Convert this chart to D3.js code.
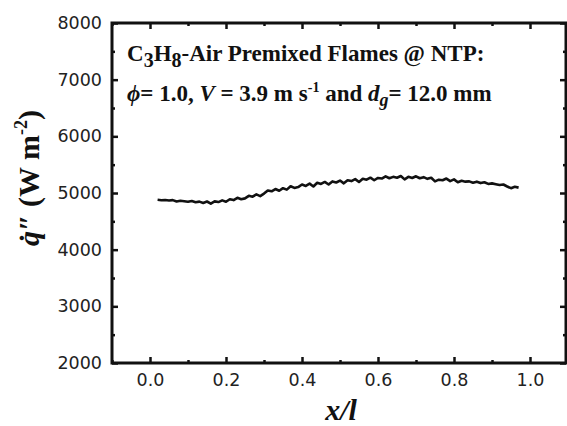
<!DOCTYPE html>
<html>
<head>
<meta charset="utf-8">
<script src="https://d3js.org/d3.v7.min.js"></script>
<style>
  body { margin: 0; background: #fff; }
  .tick text { font-family: "DejaVu Sans", sans-serif; font-size: 17.5px; fill: #222; }
  .serif { font-family: "Liberation Serif", "Times New Roman", serif; font-weight: bold; fill: #111; }
</style>
</head>
<body>
<div id="chart"></div>
<script>
// heat flux along the wall
let xPos = [0.02,0.03,0.04,0.05,0.06,0.07,0.08,0.09,0.10,0.11,0.12,0.13,0.14,0.15,0.16,0.17,0.18,0.19,
  0.20,0.21,0.22,0.23,0.24,0.25,0.26,0.27,0.28,0.29,0.30,0.31,0.32,0.33,0.34,0.35,0.36,0.37,0.38,0.39,
  0.40,0.41,0.42,0.43,0.44,0.45,0.46,0.47,0.48,0.49,0.50,0.51,0.52,0.53,0.54,0.55,0.56,0.57,0.58,0.59,
  0.60,0.61,0.62,0.63,0.64,0.65,0.66,0.67,0.68,0.69,0.70,0.71,0.72,0.73,0.74,0.75,0.76,0.77,0.78,0.79,
  0.80,0.81,0.82,0.83,0.84,0.85,0.86,0.87,0.88,0.89,0.90,0.91,0.92,0.93,0.94,0.95,0.96,0.97];
let heatFlux = [4880,4872,4876,4868,4874,4850,4862,4855,4845,4860,4838,4848,4825,4850,4812,4852,4840,4870,
  4845,4890,4875,4915,4890,4905,4950,4935,4975,4945,4990,5045,5030,5070,5040,5085,5060,5120,5090,5105,
  5150,5125,5165,5115,5180,5160,5195,5150,5205,5185,5220,5170,5225,5210,5245,5195,5250,5235,5270,5225,
  5265,5255,5295,5260,5285,5270,5300,5240,5285,5265,5295,5260,5280,5250,5270,5205,5235,5225,5255,5210,
  5240,5190,5215,5200,5205,5180,5200,5175,5190,5160,5170,5155,5140,5150,5115,5085,5110,5095];

let xMajor = [0, 0.2, 0.4, 0.6, 0.8, 1.0];
let xMinor = [-0.1, 0.1, 0.3, 0.5, 0.7, 0.9, 1.1];
let yMajor = [2000, 3000, 4000, 5000, 6000, 7000, 8000];
let yMinor = [2500, 3500, 4500, 5500, 6500, 7500];

const W = 567, H = 426;
const box = {l: 112, r: 566, t: 23, b: 363};

let svg = d3.select("#chart").append("svg")
    .attr("width", W)
    .attr("height", H);

let x = d3.scaleLinear().domain([-0.1, 1.1]).range([box.l, 568]);
let y = d3.scaleLinear().domain([2000, 8000]).range([box.b, box.t]);

const styleAxis = (g, width) => {
    g.select(".domain").remove();
    g.selectAll(".tick line").attr("stroke", "#111").attr("stroke-width", width);
};

// ticks all point into the plot
svg.append("g").attr("transform", `translate(0,${box.b})`)
    .call(d3.axisBottom(x).tickValues(xMajor).tickSize(-6).tickPadding(11).tickFormat(d3.format(".1f")))
    .call(g => styleAxis(g, 2.5));
svg.append("g").attr("transform", `translate(0,${box.b})`)
    .call(d3.axisBottom(x).tickValues(xMinor).tickSize(-3).tickFormat(""))
    .call(g => styleAxis(g, 2.5));
svg.append("g").attr("transform", `translate(0,${box.t})`)
    .call(d3.axisTop(x).tickValues(xMajor).tickSize(-6).tickFormat(""))
    .call(g => styleAxis(g, 2.5));
svg.append("g").attr("transform", `translate(0,${box.t})`)
    .call(d3.axisTop(x).tickValues(xMinor).tickSize(-3).tickFormat(""))
    .call(g => styleAxis(g, 2.5));

svg.append("g").attr("transform", `translate(${box.l},0)`)
    .call(d3.axisLeft(y).tickValues(yMajor).tickSize(-6).tickPadding(10).tickFormat(d3.format("d")))
    .call(g => styleAxis(g, 2.5));
svg.append("g").attr("transform", `translate(${box.l},0)`)
    .call(d3.axisLeft(y).tickValues(yMinor).tickSize(-3).tickFormat(""))
    .call(g => styleAxis(g, 2.5));
svg.append("g").attr("transform", `translate(${box.r},0)`)
    .call(d3.axisRight(y).tickValues(yMajor).tickSize(-6).tickFormat(""))
    .call(g => styleAxis(g, 2.5));
svg.append("g").attr("transform", `translate(${box.r},0)`)
    .call(d3.axisRight(y).tickValues(yMinor).tickSize(-3).tickFormat(""))
    .call(g => styleAxis(g, 2.5));

// frame
svg.append("rect")
    .attr("x", box.l).attr("y", box.t)
    .attr("width", box.r - box.l).attr("height", box.b - box.t)
    .attr("fill", "none").attr("stroke", "#111").attr("stroke-width", 3);

// data line
let pts = xPos.map((d, i) => [d, heatFlux[i]]);
svg.append("path")
    .datum(pts)
    .attr("fill", "none")
    .attr("stroke", "#111")
    .attr("stroke-width", 2.6)
    .attr("stroke-linejoin", "round")
    .attr("d", d3.line().x(d => x(d[0])).y(d => y(d[1])));

// annotation
let t1 = svg.append("text").attr("class", "serif").attr("x", 127).attr("y", 61).style("font-size", "23px");
t1.append("tspan").text("C");
t1.append("tspan").attr("dy", 6).style("font-size", "20px").text("3");
t1.append("tspan").attr("dy", -6).text("H");
t1.append("tspan").attr("dy", 6).style("font-size", "20px").text("8");
t1.append("tspan").attr("dy", -6).text("-Air Premixed Flames @ NTP:");

let t2 = svg.append("text").attr("class", "serif").attr("x", 127).attr("y", 101).style("font-size", "23px");
t2.append("tspan").style("font-style", "italic").text("\u03d5");
t2.append("tspan").text("= 1.0, ");
t2.append("tspan").style("font-style", "italic").text("V");
t2.append("tspan").text(" = 3.9 m s");
t2.append("tspan").attr("dy", -9).style("font-size", "14px").text("-1");
t2.append("tspan").attr("dy", 9).text(" and ");
t2.append("tspan").style("font-style", "italic").text("d");
t2.append("tspan").attr("dy", 5).style("font-style", "italic").style("font-size", "18px").text("g");
t2.append("tspan").attr("dy", -5).text("= 12.0 mm");

// axis titles
svg.append("text").attr("class", "serif")
    .attr("x", 341).attr("y", 420)
    .attr("text-anchor", "middle")
    .style("font-size", "30px").style("font-style", "italic")
    .text("x/l");

let yt = svg.append("text").attr("class", "serif")
    .attr("transform", "translate(39,178) rotate(-90)")
    .attr("text-anchor", "middle")
    .style("font-size", "30px");
yt.append("tspan").style("font-style", "italic").text("q\u0307\u2033");
yt.append("tspan").text(" (W m");
yt.append("tspan").attr("dy", -12).style("font-size", "18px").text("-2");
yt.append("tspan").attr("dy", 12).text(")");
</script>
</body>
</html>
